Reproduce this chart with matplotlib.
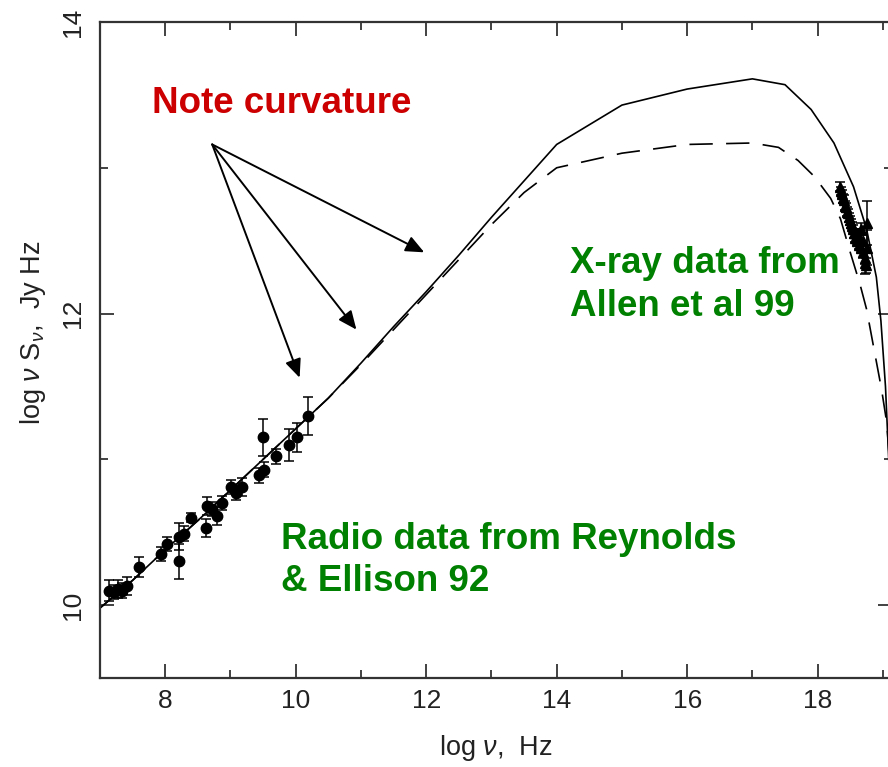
import matplotlib
matplotlib.use("Agg")
import matplotlib.pyplot as plt

plt.rcParams["font.family"] = ["Liberation Sans", "DejaVu Sans"]
plt.rcParams["mathtext.fontset"] = "custom"
plt.rcParams["mathtext.rm"] = "Liberation Sans"
plt.rcParams["mathtext.it"] = "Liberation Sans:italic"

# model curves (log nu, log nu S_nu)
solid_x = [7.0, 7.5, 8.0, 8.5, 9.0, 9.5, 10.0, 10.5, 11.0, 11.5, 12.0, 12.5,
           13.0, 13.5, 14.0, 15.0, 16.0, 17.0, 17.5, 17.9, 18.25, 18.55,
           18.75, 18.9, 18.97, 19.04, 19.1, 19.15]
solid_y = [9.98, 10.17, 10.38, 10.58, 10.79, 11.0, 11.21, 11.42, 11.66, 11.91,
           12.15, 12.40, 12.66, 12.91, 13.16, 13.43, 13.54, 13.61, 13.57, 13.40,
           13.17, 12.87, 12.58, 12.25, 11.95, 11.5, 10.9, 10.0]
dash_x = [7.0, 7.5, 8.0, 8.5, 9.0, 9.5, 10.0, 10.5, 11.0, 11.5, 12.0, 12.5,
          13.0, 13.5, 14.0, 15.0, 16.0, 17.0, 17.4, 17.7, 17.95, 18.2, 18.35,
          18.5, 18.65, 18.75, 18.85, 18.98, 19.06, 19.1, 19.15]
dash_y = [9.98, 10.17, 10.38, 10.58, 10.79, 11.0, 11.21, 11.42, 11.65, 11.89,
          12.13, 12.37, 12.61, 12.83, 13.00, 13.10, 13.16, 13.17, 13.14, 13.05,
          12.94, 12.79, 12.65, 12.42, 12.20, 12.03, 11.79, 11.48, 11.25, 11.0,
          10.5]

# radio data (Reynolds & Ellison 92)
radio_x = [7.14, 7.22, 7.28, 7.34, 7.42, 7.60, 7.94, 8.03, 8.21, 8.21, 8.29,
           8.40, 8.63, 8.64, 8.72, 8.80, 8.87, 9.01, 9.09, 9.17, 9.44, 9.52,
           9.50, 9.70, 9.90, 10.02, 10.19]
radio_y = [10.10, 10.09, 10.11, 10.10, 10.13, 10.26, 10.35, 10.42, 10.47, 10.30,
           10.49, 10.60, 10.53, 10.68, 10.66, 10.61, 10.70, 10.81, 10.77, 10.81,
           10.89, 10.93, 11.15, 11.02, 11.10, 11.15, 11.30]
radio_err = [0.07, 0.05, 0.06, 0.05, 0.06, 0.07, 0.05, 0.05, 0.09, 0.12, 0.05,
             0.03, 0.06, 0.06, 0.05, 0.06, 0.05, 0.05, 0.05, 0.06, 0.05, 0.05,
             0.13, 0.05, 0.11, 0.10, 0.13]

# X-ray data (Allen et al 99)
xray_x = [18.34, 18.36, 18.37, 18.39, 18.40, 18.42, 18.43, 18.45, 18.46, 18.48,
          18.49, 18.51, 18.52, 18.54, 18.55, 18.57, 18.58, 18.60, 18.61, 18.63,
          18.64, 18.66, 18.67, 18.69, 18.70, 18.72, 18.74, 18.76, 18.75, 18.73]
xray_y = [12.87, 12.84, 12.82, 12.79, 12.78, 12.74, 12.73, 12.70, 12.69, 12.66,
          12.64, 12.62, 12.60, 12.58, 12.55, 12.55, 12.52, 12.50, 12.55, 12.47,
          12.52, 12.45, 12.58, 12.42, 12.50, 12.38, 12.33, 12.62, 12.45, 12.35]
xray_err = [0.03, 0.03, 0.03, 0.03, 0.03, 0.03, 0.03, 0.03, 0.03, 0.03,
            0.03, 0.03, 0.03, 0.03, 0.03, 0.03, 0.03, 0.03, 0.03, 0.03,
            0.03, 0.03, 0.04, 0.04, 0.04, 0.04, 0.05, 0.15, 0.12, 0.08]

# arrows: tail and heads
arrow_tail = (8.72, 13.16)
arrow_heads_x = [11.97, 10.93, 10.06]
arrow_heads_y = [12.42, 11.89, 11.56]

fig = plt.figure(figsize=(8.88, 7.67), dpi=100)
ax = fig.add_axes([100 / 888, 89 / 767, 792 / 888, 656 / 767])

ax.plot(solid_x, solid_y, color="black", lw=1.2)
ax.plot(dash_x, dash_y, color="black", lw=1.2, dashes=(14, 8))

ax.errorbar(radio_x, radio_y, yerr=radio_err, fmt="o", color="black",
            ms=7.5, elinewidth=1.1, capsize=3.5, capthick=1.1)
ax.errorbar(xray_x, xray_y, yerr=xray_err, fmt="^", color="black",
            ms=6.5, elinewidth=1.1, capsize=3.5, capthick=1.1)

for hx, hy in zip(arrow_heads_x, arrow_heads_y):
    ax.annotate("", xy=(hx, hy), xytext=arrow_tail,
                arrowprops=dict(arrowstyle="-|>,head_length=0.8,head_width=0.35",
                                mutation_scale=14, color="black", lw=1.4,
                                shrinkA=0, shrinkB=0))

ax.text(7.79, 13.44, "Note curvature", color="#CC0000", fontsize=26.5,
        fontweight="bold", va="center", ha="left")
ax.text(14.2, 12.34, "X-ray data from", color="#008000", fontsize=26.5,
        fontweight="bold", va="center", ha="left")
ax.text(14.2, 12.05, "Allen et al 99", color="#008000", fontsize=26.5,
        fontweight="bold", va="center", ha="left")
ax.text(9.78, 10.45, "Radio data from Reynolds", color="#008000", fontsize=26.5,
        fontweight="bold", va="center", ha="left")
ax.text(9.78, 10.16, "& Ellison 92", color="#008000", fontsize=26.5,
        fontweight="bold", va="center", ha="left")

ax.set_xlim(7, 19.14)
ax.set_ylim(9.5, 14)
ax.set_xticks([8, 10, 12, 14, 16, 18])
ax.set_xticks([7, 9, 11, 13, 15, 17, 19], minor=True)
ax.set_yticks([10, 12, 14])
ax.set_yticks([11, 13], minor=True)

txt = "#222222"
ax.tick_params(which="both", direction="in", top=True, right=True,
               color="#333333", width=1.3, labelsize=19, labelcolor=txt, pad=8)
ax.tick_params(axis="y", pad=11)
ax.tick_params(which="major", length=10)
ax.tick_params(which="minor", length=6)
ax.tick_params(axis="y", labelrotation=90)
for lab in ax.get_yticklabels():
    lab.set_va("center")
for sp in ax.spines.values():
    sp.set_linewidth(1.6)
    sp.set_color("#333333")

ax.set_xlabel(r"log $\nu$,  Hz", fontsize=19.5, color=txt)
ax.set_ylabel(r"log $\nu$ S$_{\nu}$,  Jy Hz", fontsize=19.5, color=txt)
ax.xaxis.set_label_coords(0.5, -0.084)
ax.yaxis.set_label_coords(-0.066, 0.526)

fig.savefig("out.png", dpi=100)
